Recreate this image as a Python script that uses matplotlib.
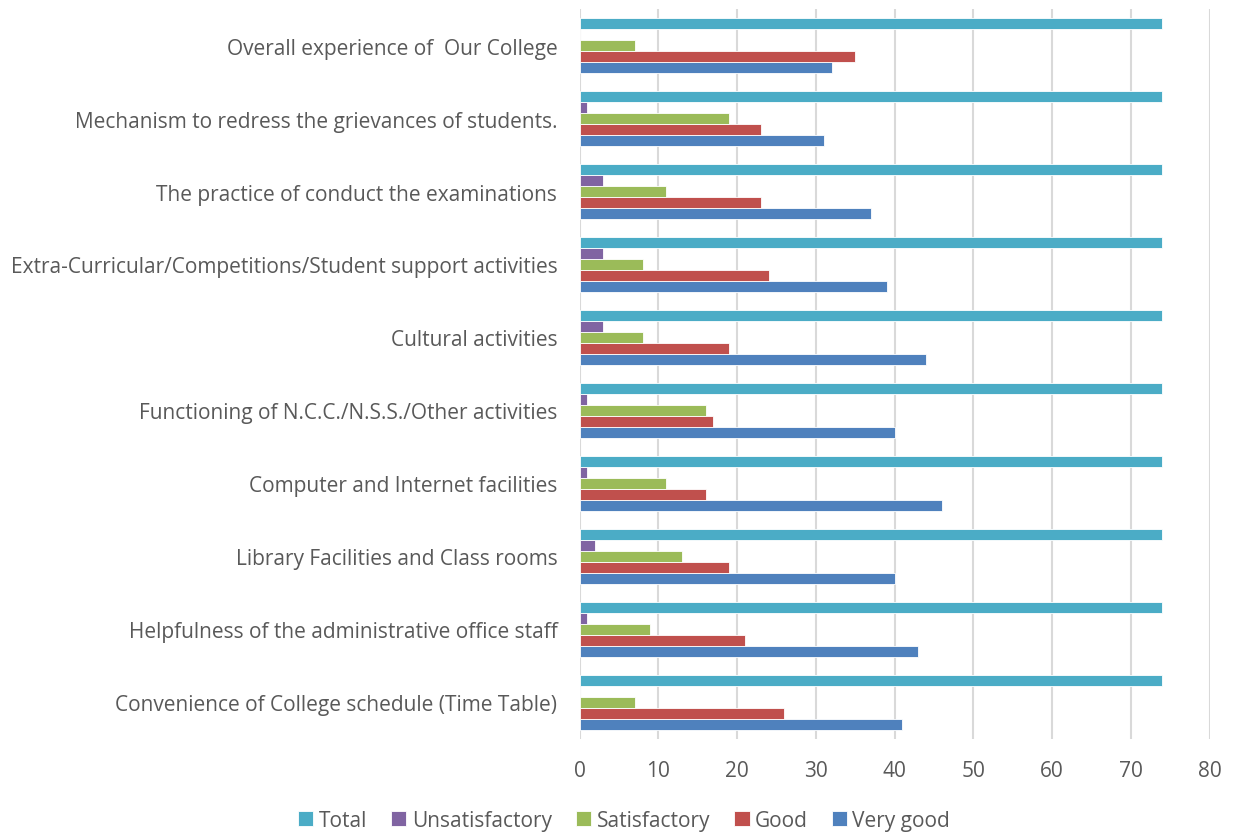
import numpy as np
import matplotlib
matplotlib.use("Agg")
import matplotlib.pyplot as plt

# categories as they appear top to bottom
categories = ["Overall experience of  Our College",
              "Mechanism to redress the grievances of students.",
              "The practice of conduct the examinations",
              "Extra-Curricular/Competitions/Student support activities",
              "Cultural activities",
              "Functioning of N.C.C./N.S.S./Other activities",
              "Computer and Internet facilities",
              "Library Facilities and Class rooms",
              "Helpfulness of the administrative office staff",
              "Convenience of College schedule (Time Table)"]
very_good = [32, 31, 37, 39, 44, 40, 46, 40, 43, 41]
good = [35, 23, 23, 24, 19, 17, 16, 19, 21, 26]
satisfactory = [7, 19, 11, 8, 8, 16, 11, 13, 9, 7]
unsatisfactory = [0, 1, 3, 3, 3, 1, 1, 2, 1, 0]
total = [74, 74, 74, 74, 74, 74, 74, 74, 74, 74]

series = [("Very good", very_good, "#4F81BD"),
          ("Good", good, "#C0504D"),
          ("Satisfactory", satisfactory, "#9BBB59"),
          ("Unsatisfactory", unsatisfactory, "#8064A2"),
          ("Total", total, "#4BACC6")]

plt.rcParams['font.family'] = ['Open Sans', 'DejaVu Sans']
fig = plt.figure(figsize=(12.33, 8.37), dpi=100)
ax = fig.add_axes([0.470, 0.116, 0.511, 0.872])

n = len(categories)
ypos = np.arange(n)[::-1]
h = 0.15
for i, (name, vals, col) in enumerate(series):
    ax.barh(ypos + (i - 2) * h, vals, height=h, color=col, label=name,
            edgecolor="white", linewidth=0.6, zorder=3)

ax.set_ylim(-0.5, n - 0.5)
ax.set_xlim(0, 80)
ax.set_xticks(range(0, 81, 10))
ax.set_yticks(ypos)
ax.set_yticklabels(categories)
ax.grid(axis="x", color="#D9D9D9", linewidth=1.5, zorder=0)
for s in ax.spines.values():
    s.set_visible(False)
ax.tick_params(axis="both", length=0, labelsize=15, labelcolor="#595959")
ax.tick_params(axis="x", pad=15)
ax.tick_params(axis="y", pad=16)

handles, labels = ax.get_legend_handles_labels()
fig.legend(handles[::-1], labels[::-1], loc="lower center", ncol=5,
           bbox_to_anchor=(0.506, -0.016), frameon=False, fontsize=15,
           handlelength=0.75, handleheight=0.75, handletextpad=0.25,
           columnspacing=1.15, labelcolor="#595959")

fig.savefig("out.png", dpi=100)
